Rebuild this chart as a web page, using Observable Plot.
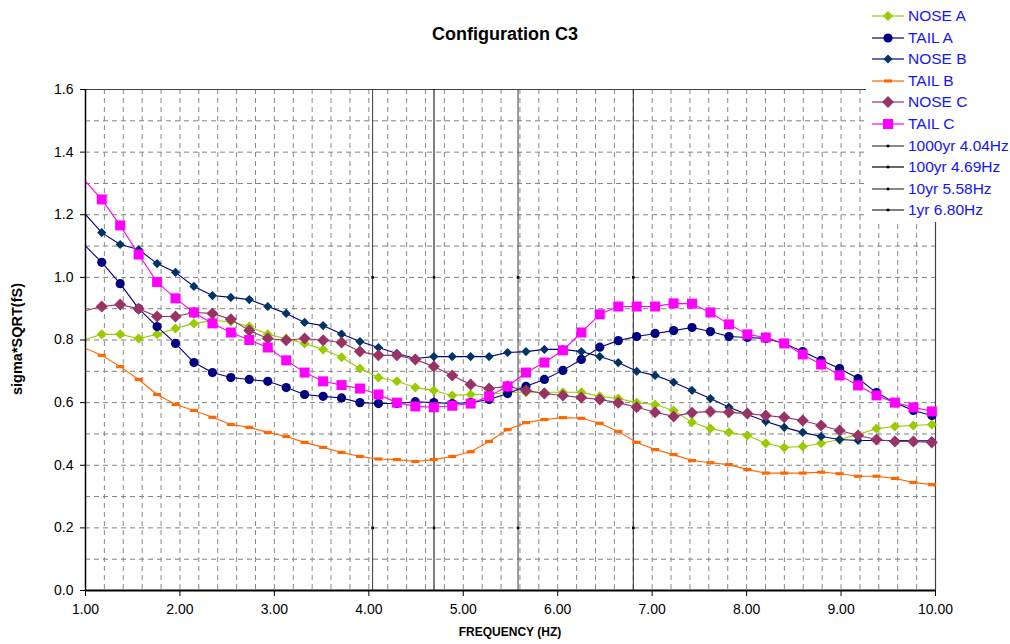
<!DOCTYPE html>
<html>
<head>
<meta charset="utf-8">
<script src="https://cdn.jsdelivr.net/npm/d3@7"></script>
<script src="https://cdn.jsdelivr.net/npm/@observablehq/plot@0.6"></script>
<style>
  body { margin: 0; background: #fff; }
  #wrap { position: relative; width: 1010px; height: 644px; font-family: Arial, "Liberation Sans", sans-serif; }
  #title { position: absolute; left: 0; width: 1010px; top: 24px; text-align: center; font-weight: bold; font-size: 18px; color: #000; padding-left: 0; }
  #ylab { position: absolute; left: 17px; top: 339px; transform: translate(-50%, -50%) rotate(-90deg); font-weight: bold; font-size: 14.5px; white-space: nowrap; color: #000; }
  #xlab { position: absolute; left: 510px; top: 632px; transform: translate(-50%, -50%); font-weight: bold; font-size: 12px; white-space: nowrap; color: #000; }
  #legend { position: absolute; left: 866px; top: 0; width: 144px; height: 222px; background: #fff; }
  .lg { position: absolute; left: 6px; height: 20px; display: flex; align-items: center; }
  .lg span { margin-left: 4px; font-size: 15.5px; color: #1414ff; white-space: nowrap; }
</style>
</head>
<body>
<div id="wrap">
  <div id="chart"></div>
  <div id="title">Configuration C3</div>
  <div id="ylab">sigma*SQRT(fS)</div>
  <div id="xlab">FREQUENCY (HZ)</div>
  <div id="legend"></div>
</div>
<script>
// Frequency samples (Hz)
const freq = [0.977, 1.172, 1.367, 1.563, 1.758, 1.953, 2.148, 2.344, 2.539, 2.734,
  2.930, 3.125, 3.320, 3.516, 3.711, 3.906, 4.102, 4.297, 4.492, 4.688,
  4.883, 5.078, 5.273, 5.469, 5.664, 5.859, 6.055, 6.250, 6.445, 6.641,
  6.836, 7.031, 7.227, 7.422, 7.617, 7.813, 8.008, 8.203, 8.398, 8.594,
  8.789, 8.984, 9.180, 9.375, 9.570, 9.766, 9.961, 10.156];

const noseA = [0.800, 0.818, 0.818, 0.805, 0.818, 0.837, 0.853, 0.862, 0.859, 0.843,
  0.818, 0.805, 0.789, 0.770, 0.745, 0.709, 0.680, 0.668, 0.648, 0.639,
  0.623, 0.626, 0.626, 0.633, 0.633, 0.633, 0.633, 0.633, 0.620, 0.613,
  0.600, 0.594, 0.575, 0.537, 0.517, 0.505, 0.495, 0.470, 0.457, 0.460,
  0.470, 0.482, 0.498, 0.517, 0.524, 0.527, 0.530, 0.530];

const tailA = [1.107, 1.048, 0.980, 0.900, 0.843, 0.789, 0.728, 0.696, 0.680, 0.674,
  0.668, 0.648, 0.626, 0.620, 0.615, 0.600, 0.597, 0.597, 0.603, 0.600,
  0.597, 0.600, 0.610, 0.629, 0.652, 0.674, 0.703, 0.738, 0.777, 0.798,
  0.811, 0.821, 0.830, 0.840, 0.827, 0.811, 0.808, 0.805, 0.789, 0.763,
  0.735, 0.709, 0.677, 0.632, 0.600, 0.575, 0.559, 0.530];

const noseB = [1.209, 1.143, 1.105, 1.089, 1.044, 1.016, 0.971, 0.942, 0.936, 0.929,
  0.907, 0.885, 0.856, 0.846, 0.819, 0.795, 0.776, 0.757, 0.741, 0.747,
  0.747, 0.747, 0.747, 0.760, 0.763, 0.770, 0.770, 0.763, 0.747, 0.728,
  0.700, 0.687, 0.665, 0.639, 0.613, 0.585, 0.562, 0.540, 0.521, 0.505,
  0.492, 0.482, 0.479, 0.479, 0.479, 0.478, 0.478, 0.477];

const tailB = [0.776, 0.751, 0.715, 0.674, 0.626, 0.594, 0.575, 0.553, 0.530, 0.521,
  0.505, 0.492, 0.473, 0.457, 0.441, 0.428, 0.420, 0.418, 0.412, 0.418,
  0.428, 0.443, 0.476, 0.514, 0.536, 0.546, 0.552, 0.550, 0.534, 0.508,
  0.473, 0.450, 0.434, 0.415, 0.408, 0.402, 0.386, 0.375, 0.375, 0.375,
  0.378, 0.373, 0.365, 0.365, 0.358, 0.345, 0.338, 0.310];

const noseC = [0.892, 0.907, 0.913, 0.900, 0.875, 0.875, 0.888, 0.885, 0.866, 0.830,
  0.805, 0.799, 0.805, 0.799, 0.792, 0.763, 0.751, 0.751, 0.738, 0.715,
  0.687, 0.658, 0.645, 0.652, 0.639, 0.629, 0.623, 0.616, 0.610, 0.600,
  0.585, 0.569, 0.556, 0.568, 0.572, 0.569, 0.565, 0.559, 0.553, 0.543,
  0.527, 0.511, 0.495, 0.482, 0.476, 0.476, 0.473, 0.473];

const tailC = [1.314, 1.249, 1.166, 1.073, 0.985, 0.933, 0.888, 0.853, 0.824, 0.800,
  0.776, 0.735, 0.696, 0.668, 0.656, 0.645, 0.626, 0.600, 0.588, 0.585,
  0.590, 0.597, 0.620, 0.652, 0.696, 0.728, 0.767, 0.824, 0.882, 0.907,
  0.907, 0.907, 0.917, 0.916, 0.888, 0.850, 0.818, 0.808, 0.789, 0.754,
  0.722, 0.687, 0.655, 0.623, 0.600, 0.585, 0.572, 0.540];

// Return-period reference frequencies
const eventLabels = ["1000yr 4.04Hz", "100yr 4.69Hz", "10yr 5.58Hz", "1yr 6.80Hz"];
const eventFreqs = [4.04, 4.69, 5.58, 6.80];
const eventColors = ["#3a3a3a", "#000000", "#3a3a3a", "#2a2a2a"];
const eventSpan = [0, 1.6];
const eventMarks = [0.2, 1.0];

// Axes ticks and grid
const xTicks = [1, 2, 3, 4, 5, 6, 7, 8, 9, 10];
const yTicks = [0, 0.2, 0.4, 0.6, 0.8, 1.0, 1.2, 1.4, 1.6];
const xGrid = [1.2, 1.4, 1.6, 1.8, 2, 2.2, 2.4, 2.6, 2.8, 3, 3.2, 3.4, 3.6, 3.8, 4, 4.2, 4.4, 4.6, 4.8, 5,
  5.2, 5.4, 5.6, 5.8, 6, 6.2, 6.4, 6.6, 6.8, 7, 7.2, 7.4, 7.6, 7.8, 8, 8.2, 8.4, 8.6, 8.8, 9, 9.2, 9.4, 9.6, 9.8];
const yGrid = [0.1, 0.2, 0.3, 0.4, 0.5, 0.6, 0.7, 0.8, 0.9, 1.0, 1.1, 1.2, 1.3, 1.4, 1.5];

// Custom marker shapes (size is area; r = sqrt(size/pi))
const diamondSym = { draw(ctx, size) { const r = Math.sqrt(size / Math.PI); ctx.moveTo(0, -r); ctx.lineTo(r, 0); ctx.lineTo(0, r); ctx.lineTo(-r, 0); ctx.closePath(); } };
const squareSym = { draw(ctx, size) { const r = Math.sqrt(size / Math.PI); ctx.rect(-r, -r, 2 * r, 2 * r); } };
const dashSym = { draw(ctx, size) { const r = Math.sqrt(size / Math.PI); ctx.rect(-r, -r * 0.4, 2 * r, r * 0.8); } };
const circleSym = { draw(ctx, size) { const r = Math.sqrt(size / Math.PI); ctx.moveTo(r, 0); ctx.arc(0, 0, r, 0, 2 * Math.PI); } };
const dotSym = { draw(ctx, size) { const r = Math.sqrt(size / Math.PI); ctx.rect(-r, -r, 2 * r, 2 * r); } };

const series = [
  { name: "NOSE A", values: noseA, line: "#99cc00", fill: "#99cc00", sym: diamondSym, r: 5 },
  { name: "TAIL A", values: tailA, line: "#000080", fill: "#000080", sym: circleSym, r: 4.6 },
  { name: "NOSE B", values: noseB, line: "#000080", fill: "#003366", sym: diamondSym, r: 4.6 },
  { name: "TAIL B", values: tailB, line: "#ff6600", fill: "#ff6600", sym: dashSym, r: 4 },
  { name: "NOSE C", values: noseC, line: "#993366", fill: "#993366", sym: diamondSym, r: 6 },
  { name: "TAIL C", values: tailC, line: "#ff00ff", fill: "#ff00ff", sym: squareSym, r: 5 }
];

const seriesMarks = series.flatMap(s => {
  const rows = freq.map((f, i) => ({ f, v: s.values[i] }));
  const shown = rows.filter(d => d.f >= 1 && d.f <= 10);
  return [
    Plot.line(rows, { x: "f", y: "v", stroke: s.line, strokeWidth: 1.1, clip: true }),
    Plot.dot(shown, { x: "f", y: "v", symbol: s.sym, r: s.r, fill: s.fill, stroke: "none" })
  ];
});

const eventMarksAll = eventFreqs.flatMap((f, i) => [
  Plot.line(eventSpan.map(v => ({ f, v })), { x: "f", y: "v", stroke: eventColors[i], strokeWidth: 1 }),
  Plot.dot(eventMarks.map(v => ({ f, v })), { x: "f", y: "v", symbol: dotSym, r: 1.3, fill: "#000", stroke: "none" })
]);

const chart = Plot.plot({
  width: 1010,
  height: 644,
  marginLeft: 85,
  marginRight: 75,
  marginTop: 89,
  marginBottom: 54,
  style: { fontFamily: "Arial, 'Liberation Sans', sans-serif", fontSize: "14px", background: "transparent", color: "#000", overflow: "visible" },
  x: { domain: [1, 10], ticks: xTicks, tickFormat: d3.format(".2f"), tickSize: 6, tickPadding: 8, label: null },
  y: { domain: [0, 1.6], ticks: yTicks, tickFormat: d3.format(".1f"), tickSize: 5, tickPadding: 7, label: null },
  marks: [
    Plot.ruleY(yGrid, { stroke: "#808080", strokeDasharray: "5,4", strokeWidth: 1 }),
    Plot.ruleX(xGrid, { stroke: "#8a8a8a", strokeDasharray: "5,4", strokeWidth: 1 }),
    Plot.ruleY([1.6], { stroke: "#404040", strokeWidth: 1.2 }),
    Plot.ruleX([10], { stroke: "#404040", strokeWidth: 1.2 }),
    ...eventMarksAll,
    ...seriesMarks,
    Plot.ruleX([1], { stroke: "#000", strokeWidth: 1.5 }),
    Plot.ruleY([0], { stroke: "#000", strokeWidth: 2 })
  ]
});
document.getElementById("chart").appendChild(chart);

// Legend
const legend = document.getElementById("legend");
const legendItems = [
  ...series.map(s => ({ name: s.name, line: s.line, fill: s.fill, sym: s.sym, r: s.r })),
  ...eventLabels.map((name, i) => ({ name, line: eventColors[i], fill: "#000", sym: dotSym, r: 1.3 }))
];
legendItems.forEach((it, i) => {
  const row = document.createElement("div");
  row.className = "lg";
  row.style.top = (6 + i * 21.6) + "px";
  const sw = d3.create("svg").attr("width", 32).attr("height", 20);
  sw.append("line").attr("x1", 0).attr("x2", 32).attr("y1", 10).attr("y2", 10).attr("stroke", it.line).attr("stroke-width", 1.2);
  sw.append("path").attr("transform", "translate(16,10)")
    .attr("d", d3.symbol(it.sym, Math.PI * it.r * it.r)())
    .attr("fill", it.fill);
  row.appendChild(sw.node());
  const t = document.createElement("span");
  t.textContent = it.name;
  row.appendChild(t);
  legend.appendChild(row);
});
</script>
</body>
</html>
